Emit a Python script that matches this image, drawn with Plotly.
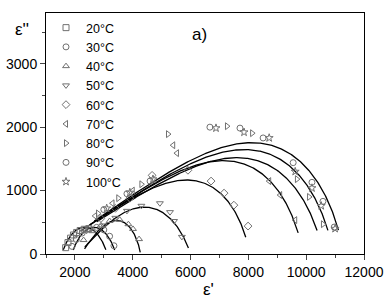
import numpy as np
import plotly.graph_objects as go

# ---- data ----
temps = ["20°C", "30°C", "40°C", "50°C", "60°C", "70°C", "80°C", "90°C", "100°C"]
symbols = ["square-open", "circle-open", "triangle-up-open", "triangle-down-open",
           "diamond-open", "triangle-left-open", "triangle-right-open", "circle-open", "star-open"]

eps1_20 = [1680, 1760, 1850, 1950, 2060, 2180, 2320, 2480]
eps2_20 = [100, 180, 250, 300, 340, 370, 390, 400]
eps1_30 = [1900, 2050, 2250, 2500, 2750, 3000, 3200, 3350]
eps2_30 = [120, 230, 330, 400, 420, 380, 280, 130]
eps1_40 = [2300, 2600, 2900, 3200, 3550, 3850, 4010, 4220]
eps2_40 = [220, 360, 450, 520, 540, 470, 395, 235]
eps1_50 = [3000, 3400, 3800, 4300, 4940, 5290, 5430, 5700]
eps2_50 = [450, 570, 680, 760, 800, 660, 520, 270]
eps1_60 = [2400, 2900, 3400, 3900, 4670, 5910, 6710, 7160, 7500, 7990]
eps2_60 = [380, 560, 720, 880, 1240, 1320, 1150, 960, 770, 440]
eps1_70 = [2700, 3300, 4000, 5400, 5530, 8720, 9100, 9620]
eps2_70 = [600, 800, 1000, 1715, 1590, 1150, 930, 535]
eps1_80 = [2800, 3500, 4300, 5220, 7260, 8130, 9680, 10100, 10580]
eps2_80 = [640, 880, 1100, 1890, 2015, 1905, 1180, 900, 470]
eps1_90 = [3000, 3800, 4600, 6670, 7710, 8510, 9550, 10200, 10580, 10970]
eps2_90 = [700, 950, 1150, 2000, 1985, 1830, 1440, 1130, 830, 425]
eps1_100 = [3100, 3900, 4700, 6880, 7850, 8720, 9620, 10200, 10520, 11000]
eps2_100 = [720, 970, 1180, 1985, 1920, 1830, 1300, 1040, 760, 400]

eps1_all = [eps1_20, eps1_30, eps1_40, eps1_50, eps1_60, eps1_70, eps1_80, eps1_90, eps1_100]
eps2_all = [eps2_20, eps2_30, eps2_40, eps2_50, eps2_60, eps2_70, eps2_80, eps2_90, eps2_100]

# Havriliak-Negami fit parameters per temperature
fit_eps_inf = [1550, 1900, 2220, 2125, 1000, 1000, 1000, 1000, 1000]
fit_d_eps = [1570, 1520, 2050, 3875, 7050, 8900, 9600, 9950, 10300]
fit_alpha = [0.63, 0.643, 0.78, 0.6, 0.75, 0.75, 0.72, 0.75, 0.77]
fit_beta = [1.0, 1.0, 0.5, 0.5, 0.25, 0.25, 0.25, 0.25, 0.25]
fit_logw_min = [-2, -2, -2, -2, -1, -1, -1, -1, -1]
fit_logw_max = [2, 2, 3, 4, 4, 4, 4, 4, 4]

x_ticks = [2000, 4000, 6000, 8000, 10000, 12000]
x_tick_text = ["2000", "4000", "6000", "8000", "10000", "12000"]
y_ticks = [0, 1000, 2000, 3000]
y_tick_text = ["0", "1000", "2000", "3000"]


def hn_curve(e_inf, d_eps, a, b, lo, hi):
    w = np.logspace(lo, hi, 400)
    eps = e_inf + d_eps / (1 + (1j * w) ** a) ** b
    return eps.real, -eps.imag


fig = go.Figure()
for i in range(len(temps)):
    cx, cy = hn_curve(fit_eps_inf[i], fit_d_eps[i], fit_alpha[i], fit_beta[i],
                      fit_logw_min[i], fit_logw_max[i])
    fig.add_trace(go.Scatter(x=cx, y=cy, mode="lines", showlegend=False,
                             line=dict(color="black", width=1.3), hoverinfo="skip"))

for i in range(len(temps)):
    fig.add_trace(go.Scatter(x=eps1_all[i], y=eps2_all[i], mode="markers", name=temps[i],
                             marker=dict(symbol=symbols[i], size=6, color="#707070",
                                         line=dict(width=1, color="#707070"))))

font_family = "Liberation Sans, Arial, sans-serif"
fig.update_layout(
    width=392, height=304,
    margin=dict(l=46, r=28, t=13, b=50),
    paper_bgcolor="white", plot_bgcolor="white",
    font=dict(family=font_family, color="black", size=13),
    showlegend=True,
    legend=dict(x=0.0, y=1.0, xanchor="left", yanchor="top",
                bgcolor="rgba(0,0,0,0)", font=dict(size=12.5, family=font_family),
                borderwidth=0, tracegroupgap=0, itemwidth=30),
    xaxis=dict(range=[1000, 12000], tickvals=x_ticks, ticktext=x_tick_text,
               ticks="outside", ticklen=5, automargin=False,
               tickwidth=1, showline=True, linecolor="black", linewidth=1, mirror=True,
               showgrid=False, zeroline=False, tickfont=dict(size=14),
               minor=dict(dtick=1000, tick0=0, ticks="outside", ticklen=3, tickwidth=1)),
    yaxis=dict(range=[0, 3800], tickvals=y_ticks, ticktext=y_tick_text,
               ticks="outside", ticklen=5, automargin=False,
               tickwidth=1, showline=True, linecolor="black", linewidth=1, mirror=True,
               showgrid=False, zeroline=False, tickfont=dict(size=14),
               minor=dict(dtick=500, tick0=0, ticks="outside", ticklen=3, tickwidth=1)),
    annotations=[
        dict(text="a)", x=0.484, y=0.909, xref="paper", yref="paper", showarrow=False,
             font=dict(size=17), xanchor="center", yanchor="middle"),
        dict(text="ε''", x=-0.075, y=0.93, xref="paper", yref="paper", showarrow=False,
             font=dict(size=17), xanchor="center", yanchor="middle"),
        dict(text="ε'", x=0.51, y=-0.149, xref="paper", yref="paper", showarrow=False,
             font=dict(size=17), xanchor="center", yanchor="middle"),
    ],
)
fig.write_html("out.html", config={"displayModeBar": False},
               post_script="document.body.style.margin='0px';")
